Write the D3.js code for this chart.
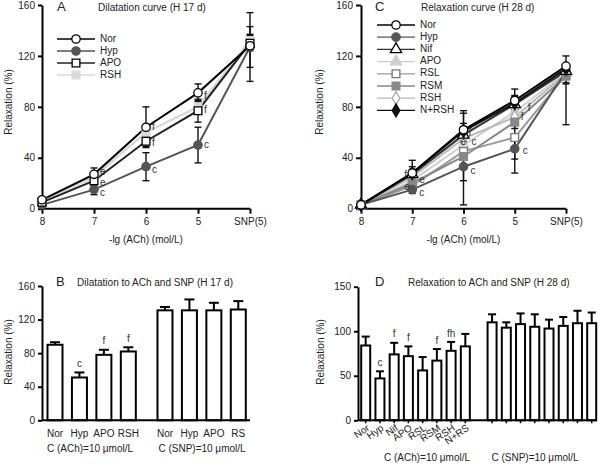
<!DOCTYPE html>
<html><head><meta charset="utf-8">
<script src="https://cdn.jsdelivr.net/npm/d3@7"></script>
<style>body{margin:0;background:#fff}svg{font-family:"Liberation Sans",Arial,sans-serif}</style>
</head><body><svg id="c" width="600" height="467"></svg>
<script>
// ---------- DATA ----------
const doseCats = ["8","7","6","5","SNP(5)"];
const yTicks160 = [0,40,80,120,160];
const yTicks150 = [0,50,100,150];

// Panel A (H 17 d) dilatation curve  (value, upper error, lower error)
const aNames = ["Nor","Hyp","APO","RSH"];
const aNor = [7,27,64,91,128],  aNorErr = [1,5,16,7,26],  aNorErrLo = [1,5,16,7,28];
const aHyp = [3,15,33,50,127],  aHypErr = [1,4,11,14,16], aHypErrLo = [1,4,11,14,16];
const aAPO = [5,22,53,77,130],  aAPOErr = [1,4,4,9,6],    aAPOErrLo = [1,4,4,9,6];
const aRSH = [6,25,60,80,132],  aRSHErr = [1,3,4,5,5],    aRSHErrLo = [1,3,4,5,5];
const annA = [[1,28.5,"e"],[1,20,"e"],[1,12,"c"],[2,64,"f"],[2,51,"f"],[2,30,"c"],[3,88,"f"],[3,77,"f"],[3,50,"c"]];

// Panel C (H 28 d) relaxation curve
const cNames = ["Nor","Hyp","Nif","APO","RSL","RSM","RSH","N+RSH"];
const cNor  = [3,28,62,85,112], cNorErr  = [1,10,13,9,8],  cNorErrLo  = [1,10,13,9,2];
const cHyp  = [3,15,33,47,108], cHypErr  = [1,3,11,8,2],   cHypErrLo  = [1,3,11,8,2];
const cNif  = [3,27,58,82,108], cNifErr  = [1,4,6,6,2],    cNifErrLo  = [1,4,6,6,42];
const cAPO  = [3,22,50,76,107], cAPOErr  = [1,3,5,6,2],    cAPOErrLo  = [1,3,5,6,2];
const cRSL  = [3,18,45,56,105], cRSLErr  = [1,3,5,28,2],   cRSLErrLo  = [1,3,5,28,6];
const cRSM  = [3,20,41,68,104], cRSMErr  = [1,3,36,5,2],   cRSMErrLo  = [1,3,38,5,6];
const cRSH  = [3,25,55,72,106], cRSHErr  = [1,3,5,6,2],    cRSHErrLo  = [1,3,5,6,2];
const cNRSH = [3,28,61,83,110], cNRSHErr = [1,5,6,6,2],    cNRSHErrLo = [1,5,6,6,2];
const annC = [[1,26,"f",-8],[1,17,"e",-8],[1,22,"e",7],[1,12,"c",7],[2,59,"f",5],[2,52,"e",-3],[2,52,"c",8],[2,29,"c",7],[3,79,"f",13],[3,72,"f",6],[3,45,"c",8]];

// Panel B (H 17 d) bars
const bLabels = ["Nor","Hyp","APO","RSH","Nor","Hyp","APO","RS"];
const bACh = [90,51,78,82], bAChErr = [3,6,6,5];
const bSNP = [131,131,131,132], bSNPErr = [4,13,9,10];
const bSig = ["","c","f","f"];

// Panel D (H 28 d) bars
const dLabels = ["Nor","Hyp","Nif","APO","RSL","RSM","RSH","N+RS"];
const dACh = [84,47,74,72,56,67,78,83], dAChErr = [10,8,13,11,15,13,10,14];
const dSNP = [110,104,108,105,103,106,109,109], dSNPErr = [9,6,12,14,10,10,14,12];
const dSig = ["","c","f","f","","f","fh",""];

// ---------- DRAW ----------
const svg = d3.select("#c");
const FS = 10;

function styleAxis(g){
  g.selectAll(".domain").attr("stroke","#000").attr("stroke-width",2);
  g.selectAll(".tick line").attr("stroke","#000").attr("stroke-width",2);
  g.selectAll("text").attr("font-size",FS).attr("fill","#222").attr("font-family","Liberation Sans, Arial, sans-serif");
}
function text(x,y,t,opt={}){
  const e = svg.append("text").attr("x",x).attr("y",y).text(t)
    .attr("font-size",opt.fs||FS).attr("fill",opt.fill||"#222")
    .attr("text-anchor",opt.anchor||"start").attr("dominant-baseline",opt.base||"middle");
  if(opt.rot!==undefined) e.attr("transform",`rotate(${opt.rot},${x},${y})`);
  return e;
}
const sym = {circle:d3.symbolCircle, square:d3.symbolSquare, triangle:d3.symbolTriangle, diamond:d3.symbolDiamond};
function marker(g,x,y,s){
  const size = s.shape==="circle"?55:(s.shape==="triangle"?55:(s.shape==="diamond"?50:60));
  g.append("path").attr("d",d3.symbol().type(sym[s.shape]).size(size)())
   .attr("transform",`translate(${x},${y})`)
   .attr("fill",s.open?"#fff":s.color).attr("stroke",s.open?(s.mstroke||"#000"):s.color).attr("stroke-width",1.3);
}

function linePanel(cfg){
  const x = d3.scalePoint().domain(doseCats).range(cfg.xr);
  const y = d3.scaleLinear().domain([0,160]).range([208.7,5]);
  const gy = svg.append("g").attr("transform",`translate(${cfg.xr[0]},0)`)
    .call(d3.axisLeft(y).tickValues(yTicks160).tickSize(cfg.tk).tickPadding(3).tickSizeOuter(0));
  styleAxis(gy);
  const gx = svg.append("g").attr("transform",`translate(0,${y(0)})`)
    .call(d3.axisBottom(x).tickSize(5).tickPadding(4).tickSizeOuter(0));
  styleAxis(gx);
  gx.select(".domain").attr("d",`M${cfg.xr[0]},0H${cfg.xr[1]}`);
  text((cfg.xr[0]+cfg.xr[1])/2,240,"-lg (ACh) (mol/L)",{anchor:"middle"});
  text(cfg.ylx,102,"Relaxation (%)",{anchor:"middle",rot:-90});
  text(cfg.letterX,8,cfg.letter,{fs:13});
  text(cfg.titleX,8,cfg.title,{fs:cfg.tfs});
  const line = d3.line().x((d,i)=>x(doseCats[i])).y(d=>y(d));
  const g = svg.append("g");
  cfg.series.forEach(s=>{
    g.append("path").attr("d",line(s.v)).attr("fill","none").attr("stroke",s.color).attr("stroke-width",s.lw||2);
  });
  const capLine = (xx,yy)=>g.append("line").attr("x1",xx-3.5).attr("x2",xx+3.5).attr("y1",yy).attr("y2",yy).attr("stroke","#111").attr("stroke-width",1.4);
  cfg.series.forEach(s=>{
    s.v.forEach((v,i)=>{
      const xx = x(doseCats[i]), eu = s.e[i], el = s.el[i];
      if(eu>2){
        g.append("line").attr("x1",xx).attr("x2",xx).attr("y1",y(v+eu)).attr("y2",y(v)).attr("stroke","#111").attr("stroke-width",1.4);
        capLine(xx,y(v+eu));
      }
      if(el>2){
        g.append("line").attr("x1",xx).attr("x2",xx).attr("y1",y(v)).attr("y2",y(v-el)).attr("stroke","#111").attr("stroke-width",1.4);
        capLine(xx,y(v-el));
      }
    });
  });
  cfg.series.forEach(s=>s.v.forEach((v,i)=>marker(g,x(doseCats[i]),y(v),s)));
  cfg.ann.forEach(a=>text(x(doseCats[a[0]])+(a[3]!==undefined?a[3]:6),y(a[1]),a[2],{fill:"#333"}));
  // legend
  cfg.series.slice().sort((a,b)=>a.order-b.order).forEach((s,i)=>{
    const ly = cfg.ly0 + i*cfg.ldy;
    svg.append("line").attr("x1",cfg.lx).attr("x2",cfg.lx+38).attr("y1",ly).attr("y2",ly).attr("stroke",s.lcolor||s.color).attr("stroke-width",1.3);
    marker(svg,cfg.lx+19,ly,s);
    text(cfg.lx+43,ly,s.name);
  });
}

linePanel({xr:[42,250],tk:4,ylx:9,letter:"A",letterX:57,title:"Dilatation curve (H 17 d)",titleX:98,tfs:10,
  lx:57,ly0:39,ldy:12,ann:annA,
  series:[
    {name:aNames[3],v:aRSH,e:aRSHErr,el:aRSHErrLo,color:"#d9d9d9",shape:"square",open:false,lw:2.5,order:3},
    {name:aNames[1],v:aHyp,e:aHypErr,el:aHypErrLo,color:"#555",shape:"circle",open:false,order:1},
    {name:aNames[2],v:aAPO,e:aAPOErr,el:aAPOErrLo,color:"#222",shape:"square",open:true,order:2},
    {name:aNames[0],v:aNor,e:aNorErr,el:aNorErrLo,color:"#000",shape:"circle",open:true,order:0}
  ]});

linePanel({xr:[361,566],tk:5,ylx:320,letter:"C",letterX:375,title:"Relaxation curve (H 28 d)",titleX:421,tfs:10,
  lx:377,ly0:25,ldy:12.2,ann:annC,
  series:[
    {name:cNames[3],v:cAPO,e:cAPOErr,el:cAPOErrLo,color:"#cfcfcf",shape:"triangle",open:false,order:3},
    {name:cNames[6],v:cRSH,e:cRSHErr,el:cRSHErrLo,color:"#bbb",shape:"diamond",open:true,mstroke:"#aaa",order:6},
    {name:cNames[4],v:cRSL,e:cRSLErr,el:cRSLErrLo,color:"#999",shape:"square",open:true,mstroke:"#777",order:4},
    {name:cNames[5],v:cRSM,e:cRSMErr,el:cRSMErrLo,color:"#888",shape:"square",open:false,order:5},
    {name:cNames[1],v:cHyp,e:cHypErr,el:cHypErrLo,color:"#555",shape:"circle",open:false,order:1},
    {name:cNames[2],v:cNif,e:cNifErr,el:cNifErrLo,color:"#333",shape:"triangle",open:true,order:2},
    {name:cNames[7],v:cNRSH,e:cNRSHErr,el:cNRSHErrLo,color:"#111",shape:"diamond",open:false,order:7},
    {name:cNames[0],v:cNor,e:cNorErr,el:cNorErrLo,color:"#000",shape:"circle",open:true,order:0}
  ]});

function barPanel(cfg){
  const n = cfg.ach.length;
  const vals = cfg.ach.concat(cfg.snp), errs = cfg.achErr.concat(cfg.snpErr);
  const pos = vals.map((d,i)=> i<n ? i : i+cfg.gap);
  const x = d3.scaleLinear().domain([0,n-1+cfg.gap+n]).range(cfg.cr);
  const y = d3.scaleLinear().domain([0,cfg.ymax]).range([420.3,cfg.ytop]);
  const gy = svg.append("g").attr("transform",`translate(${cfg.ax},0)`)
    .call(d3.axisLeft(y).tickValues(cfg.ticks).tickSize(4).tickPadding(3).tickSizeOuter(0));
  styleAxis(gy);
  const g = svg.append("g");
  vals.forEach((v,i)=>{
    const cx = x(pos[i]);
    g.append("line").attr("x1",cx).attr("x2",cx).attr("y1",y(v)).attr("y2",y(v+errs[i])).attr("stroke","#000").attr("stroke-width",2);
    g.append("line").attr("x1",cx-cfg.cap).attr("x2",cx+cfg.cap).attr("y1",y(v+errs[i])).attr("y2",y(v+errs[i])).attr("stroke","#000").attr("stroke-width",2);
    g.append("rect").attr("x",cx-cfg.bw/2).attr("y",y(v)).attr("width",cfg.bw).attr("height",y(0)-y(v))
      .attr("fill","#fff").attr("stroke","#000").attr("stroke-width",2);
    if(cfg.ticksX) g.append("line").attr("x1",cx).attr("x2",cx).attr("y1",y(0)).attr("y2",y(0)+3).attr("stroke","#000").attr("stroke-width",1.5);
    const lab = cfg.labels[i];
    if(cfg.rot) text(cx+3,y(0)+7,lab,{anchor:"end",rot:-35});
    else text(cx,434,lab,{anchor:"middle"});
  });
  cfg.sig.forEach((s,i)=>{ if(s) text(x(pos[i]),y(cfg.ach[i]+cfg.achErr[i])-8,s,{anchor:"middle",fill:"#333"}); });
  svg.append("line").attr("x1",cfg.ax).attr("x2",cfg.axEnd).attr("y1",y(0)).attr("y2",y(0)).attr("stroke","#000").attr("stroke-width",2);
  text(cfg.ylx,352,"Relaxation (%)",{anchor:"middle",rot:-90});
  text(cfg.letterX,283,cfg.letter,{fs:13});
  text(cfg.titleX,283,cfg.title,{fs:cfg.tfs});
  text(cfg.g1,cfg.gy,"C (ACh)=10 μmol/L",{anchor:"middle"});
  text(cfg.g2,cfg.gy,"C (SNP)=10 μmol/L",{anchor:"middle"});
}

barPanel({ach:bACh,achErr:bAChErr,snp:bSNP,snpErr:bSNPErr,labels:bLabels,sig:bSig,gap:0.5,
  cr:[55,238.3],ymax:160,ytop:286,ticks:yTicks160,ax:42,axEnd:250,bw:15,cap:5,rot:false,
  ylx:9,letter:"B",letterX:56,title:"Dilatation to ACh and SNP (H 17 d)",titleX:77,tfs:10,g1:90,g2:202,gy:449});

barPanel({ach:dACh,achErr:dAChErr,snp:dSNP,snpErr:dSNPErr,labels:dLabels,sig:dSig,gap:0.88,
  cr:[365.7,591.7],ymax:150,ytop:286.7,ticks:yTicks150,ax:358,axEnd:597,bw:9,cap:4,rot:true,ticksX:true,
  ylx:321,letter:"D",letterX:375,title:"Relaxation to ACh and SNP (H 28 d)",titleX:408,tfs:10,g1:427,g2:535,gy:458});
</script></body></html>
